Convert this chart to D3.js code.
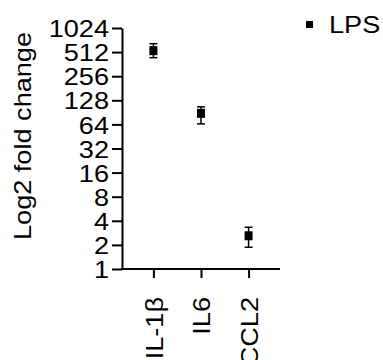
<!DOCTYPE html>
<html lang="en">
<head>
    <meta charset="UTF-8">
    <title>Log2 fold change</title>
    <style>
        body {
            margin: 0;
            background: #fff;
        }
        svg text {
            font-family: "Liberation Sans", Arial, sans-serif;
            fill: #000;
        }
    </style>
</head>
<body>
    <svg id="chart"></svg>
    <script src="https://cdnjs.cloudflare.com/ajax/libs/d3/7.9.0/d3.min.js"></script>
    <script>
        // data
        const genes = ["IL-1\u03b2", "IL6", "CCL2"];
        const meanFold = [534, 88, 2.6];
        const lowFold = [436, 65, 1.87];
        const highFold = [652, 106, 3.32];
        const yTicks = [1, 2, 4, 8, 16, 32, 64, 128, 256, 512, 1024];
        const seriesName = "LPS";

        const w = 383;
        const h = 360;
        const plotLeft = 122, plotRight = 280, plotTop = 28, plotBottom = 269;
        const fs = 24;      // font size
        const sx = 1.13;    // text in the picture is a bit wider than Arial

        const svg = d3.select("#chart")
            .attr("width", w)
            .attr("height", h);

        const xScale = d3.scalePoint()
            .domain(genes)
            .range([plotLeft, plotRight])
            .padding(0.66);

        const yScale = d3.scaleLog()
            .base(2)
            .domain([1, 1024])
            .range([plotBottom, plotTop]);

        // y axis
        const yAxis = d3.axisLeft(yScale)
            .tickValues(yTicks)
            .tickFormat(d3.format("d"))
            .tickSize(10)
            .tickSizeOuter(0);

        const gy = svg.append("g")
            .attr("transform", "translate(" + plotLeft + ",0)")
            .call(yAxis);
        gy.selectAll("line, path").attr("stroke", "#000").attr("stroke-width", 2);
        gy.selectAll("text")
            .attr("font-size", fs)
            .attr("transform", "scale(" + sx + ",1)")
            .attr("x", -13 / sx)
            .attr("dy", "0.36em");

        // x axis
        const xAxis = d3.axisBottom(xScale)
            .tickSize(9)
            .tickSizeOuter(0);

        const gx = svg.append("g")
            .attr("transform", "translate(0," + plotBottom + ")")
            .call(xAxis);
        gx.select("path").attr("d", "M" + (plotLeft - 1) + ",0H" + plotRight);
        gx.selectAll("line, path").attr("stroke", "#000").attr("stroke-width", 2);
        gx.selectAll("text")
            .attr("font-size", fs)
            .attr("text-anchor", "end")
            .attr("transform", "rotate(-90) scale(" + sx + ",1)")
            .attr("x", -28 / sx)
            .attr("y", 0)
            .attr("dy", "0.36em");

        // y label
        svg.append("text")
            .attr("transform", "translate(31,136) rotate(-90) scale(" + sx + ",1)")
            .attr("text-anchor", "middle")
            .attr("font-size", fs)
            .text("Log2 fold change");

        // error bars
        const pts = genes.map((g, i) => ({ g: g, m: meanFold[i], lo: lowFold[i], hi: highFold[i] }));
        const eb = svg.append("g").attr("stroke", "#000").attr("stroke-width", 1.5);
        eb.selectAll(".v").data(pts).enter().append("line")
            .attr("x1", d => xScale(d.g)).attr("x2", d => xScale(d.g))
            .attr("y1", d => yScale(d.lo)).attr("y2", d => yScale(d.hi));
        eb.selectAll(".capHi").data(pts).enter().append("line")
            .attr("x1", d => xScale(d.g) - 4).attr("x2", d => xScale(d.g) + 4)
            .attr("y1", d => yScale(d.hi)).attr("y2", d => yScale(d.hi));
        eb.selectAll(".capLo").data(pts).enter().append("line")
            .attr("x1", d => xScale(d.g) - 4).attr("x2", d => xScale(d.g) + 4)
            .attr("y1", d => yScale(d.lo)).attr("y2", d => yScale(d.lo));

        // markers
        svg.selectAll(".pt").data(pts).enter().append("rect")
            .attr("x", d => xScale(d.g) - 4)
            .attr("y", d => yScale(d.m) - 4.5)
            .attr("width", 8)
            .attr("height", 9)
            .attr("fill", "#000");

        // legend
        svg.append("rect")
            .attr("x", 306).attr("y", 21)
            .attr("width", 7).attr("height", 7)
            .attr("fill", "#000");
        svg.append("text")
            .attr("transform", "translate(329,33) scale(" + sx + ",1)")
            .attr("font-size", fs)
            .text(seriesName);
    </script>
</body>
</html>
